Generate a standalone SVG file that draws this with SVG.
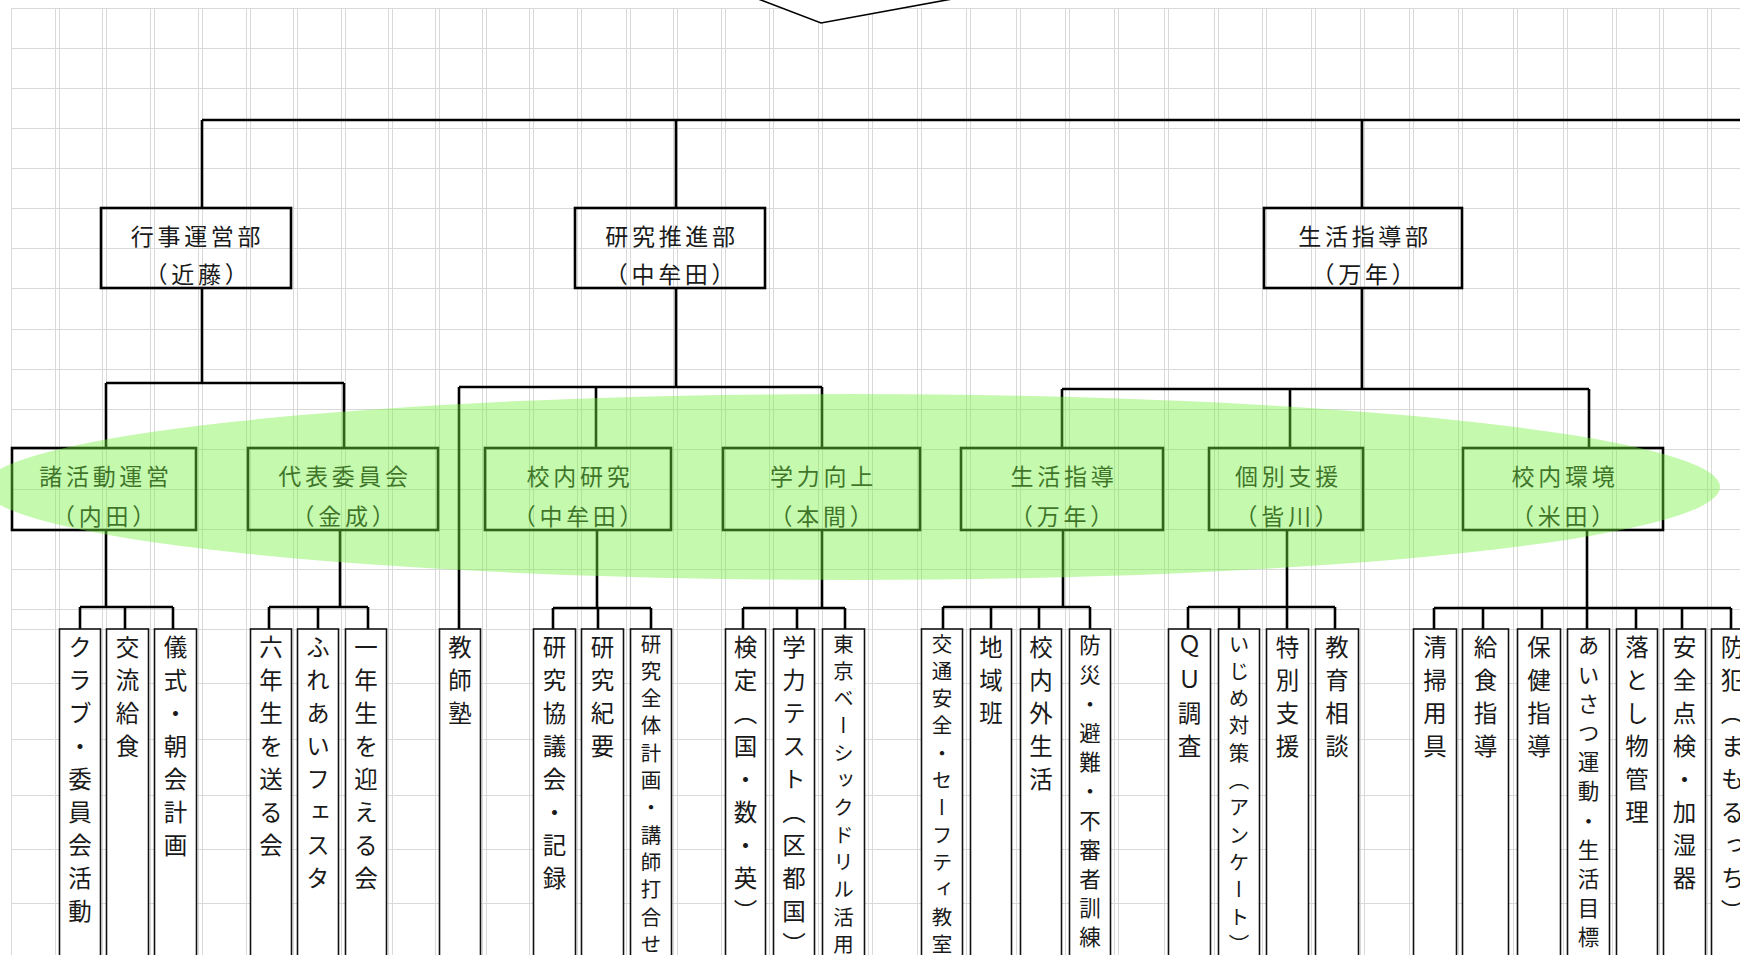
<svg xmlns="http://www.w3.org/2000/svg" width="1740" height="955" viewBox="0 0 1740 955">
<style>
.g{stroke:#d9d9d9;stroke-width:1;fill:none}
.c{stroke:#000;stroke-width:2.6;fill:none}
.b{fill:none;stroke:#000;stroke-width:2.6}
.lf{fill:#fff;stroke:#111;stroke-width:1.6}
.t{font-family:"Noto Sans CJK JP","Noto Sans CJK SC",sans-serif;fill:#1a1a1a;text-anchor:middle;dominant-baseline:central;font-size:23px;letter-spacing:3.7px}
.v{font-family:"Noto Sans CJK JP","Noto Sans CJK SC",sans-serif;fill:#1a1a1a;writing-mode:vertical-rl;font-size:23.5px;letter-spacing:9.5px}
.s{font-size:20.5px;letter-spacing:6.8px}
.m{font-size:21.5px;letter-spacing:7.7px}
</style>
<rect width="1740" height="955" fill="#fff"/>
<g id="grid">
<path class="g" d="M11.5 8.5V955M55.5 8.5V955M59.5 8.5V955M102.5 8.5V955M106.5 8.5V955M150.5 8.5V955M154.5 8.5V955M198.5 8.5V955M202.5 8.5V955M246.5 8.5V955M250.5 8.5V955M293.5 8.5V955M297.5 8.5V955M341.5 8.5V955M345.5 8.5V955M388.5 8.5V955M392.5 8.5V955M435.5 8.5V955M439.5 8.5V955M482.5 8.5V955M486.5 8.5V955M529.5 8.5V955M533.5 8.5V955M577.5 8.5V955M581.5 8.5V955M626.5 8.5V955M630.5 8.5V955M673.5 8.5V955M677.5 8.5V955M721.5 8.5V955M725.5 8.5V955M769.5 8.5V955M773.5 8.5V955M818.5 8.5V955M822.5 8.5V955M868.5 8.5V955M872.5 8.5V955M917.5 8.5V955M921.5 8.5V955M966.5 8.5V955M970.5 8.5V955M1016.5 8.5V955M1020.5 8.5V955M1065.5 8.5V955M1069.5 8.5V955M1114.5 8.5V955M1118.5 8.5V955M1164.5 8.5V955M1168.5 8.5V955M1214.5 8.5V955M1218.5 8.5V955M1262.5 8.5V955M1266.5 8.5V955M1311.5 8.5V955M1315.5 8.5V955M1360.5 8.5V955M1364.5 8.5V955M1409.5 8.5V955M1413.5 8.5V955M1458.5 8.5V955M1462.5 8.5V955M1513.5 8.5V955M1517.5 8.5V955M1563.5 8.5V955M1567.5 8.5V955M1612.5 8.5V955M1616.5 8.5V955M1659.5 8.5V955M1663.5 8.5V955M1707.5 8.5V955M1711.5 8.5V955"/>
<path class="g" d="M11.5 8.5H1740M11.5 48.5H1740M11.5 88.5H1740M11.5 128.5H1740M11.5 168.5H1740M11.5 208.5H1740M11.5 248.5H1740M11.5 288.5H1740M11.5 329.5H1740M11.5 369.5H1740M11.5 409.5H1740M11.5 449.5H1740M11.5 489.5H1740M11.5 529.5H1740M11.5 569.5H1740M11.5 609.5H1740M11.5 629.5H1740M11.5 683.5H1740M11.5 739.5H1740M11.5 795.5H1740M11.5 849.5H1740M11.5 903.5H1740"/>
</g>
<polygon id="topshape" points="753,-3 821,23 963,-3" fill="#fff" stroke="#000" stroke-width="1.6"/>
<g id="connectors">
<path class="c" d="M202 120H1745M202 120V208M676 120V208M1362 120V208"/>
<path class="c" d="M202 288V383M106 383H344M106 383V448M344 383V448"/>
<path class="c" d="M676 288V387M459 387H822M459 387V629M596 387V448M822 387V448"/>
<path class="c" d="M1362 288V389M1062 389H1589M1062 389V448M1290 389V448M1589 389V448"/>
<path class="c" d="M106 530V607M80 607H173M80 607V629M125 607V629M173 607V629"/>
<path class="c" d="M340 530V607M269 607H368M269 607V629M318 607V629M368 607V629"/>
<path class="c" d="M597 530V608M553 608H651M553 608V629M598 608V629M651 608V629"/>
<path class="c" d="M822 530V608M743 608H845M743 608V629M797 608V629M845 608V629"/>
<path class="c" d="M1063 530V607M943 607H1090M943 607V629M991 607V629M1039 607V629M1090 607V629"/>
<path class="c" d="M1287 530V607M1188 607H1335M1188 607V629M1239 607V629M1287 607V629M1335 607V629"/>
<path class="c" d="M1587 530V608M1434 608H1731M1434 608V629M1483 608V629M1542 608V629M1587 608V629M1636 608V629M1682 608V629M1731 608V629"/>
</g>
<g id="n-gyoji"><rect class="b" x="101" y="208" width="190" height="80"/><text class="t" x="197.5" y="235">行事運営部</text><text class="t" x="198" y="273">（近藤）</text></g>
<g id="n-kenkyu"><rect class="b" x="575" y="208" width="190" height="80"/><text class="t" x="672" y="235">研究推進部</text><text class="t" x="671.5" y="273">（中牟田）</text></g>
<g id="n-seikatsu"><rect class="b" x="1264" y="208" width="198" height="80"/><text class="t" x="1365" y="235">生活指導部</text><text class="t" x="1365" y="273">（万年）</text></g>
<g id="n-shokatsudo"><rect class="b" x="12" y="448" width="184" height="82"/><text class="t" x="106" y="475">諸活動運営</text><text class="t" x="105.5" y="515">（内田）</text></g>
<g id="n-daihyo"><rect class="b" x="248" y="448" width="190" height="82"/><text class="t" x="345" y="475">代表委員会</text><text class="t" x="345" y="515">（金成）</text></g>
<g id="n-konaikenkyu"><rect class="b" x="485" y="448" width="186" height="82"/><text class="t" x="580" y="475">校内研究</text><text class="t" x="579.5" y="515">（中牟田）</text></g>
<g id="n-gakuryoku"><rect class="b" x="723" y="448" width="197" height="82"/><text class="t" x="823.5" y="475">学力向上</text><text class="t" x="823" y="515">（本間）</text></g>
<g id="n-seikatsushido"><rect class="b" x="961" y="448" width="202" height="82"/><text class="t" x="1064" y="475">生活指導</text><text class="t" x="1063.5" y="515">（万年）</text></g>
<g id="n-kobetsu"><rect class="b" x="1209" y="448" width="154" height="82"/><text class="t" x="1288.5" y="475">個別支援</text><text class="t" x="1288" y="515">（皆川）</text></g>
<g id="n-kankyo"><rect class="b" x="1463" y="448" width="200" height="82"/><text class="t" x="1565" y="475">校内環境</text><text class="t" x="1564.5" y="515">（米田）</text></g>
<g id="leaves">
<g id="l0"><rect class="lf" x="59.5" y="629" width="41" height="340"/><text class="v" x="80" y="635">クラブ・委員会活動</text></g>
<g id="l1"><rect class="lf" x="106.5" y="629" width="42" height="340"/><text class="v" x="127.5" y="635">交流給食</text></g>
<g id="l2"><rect class="lf" x="154.5" y="629" width="42" height="340"/><text class="v" x="175.5" y="635">儀式・朝会計画</text></g>
<g id="l4"><rect class="lf" x="250.5" y="629" width="41" height="340"/><text class="v" x="271" y="635">六年生を送る会</text></g>
<g id="l5"><rect class="lf" x="297.5" y="629" width="41" height="340"/><text class="v" x="318" y="635">ふれあいフェスタ</text></g>
<g id="l6"><rect class="lf" x="345.5" y="629" width="41" height="340"/><text class="v" x="366" y="635">一年生を迎える会</text></g>
<g id="l8"><rect class="lf" x="439.5" y="629" width="41" height="340"/><text class="v" x="460" y="635">教師塾</text></g>
<g id="l10"><rect class="lf" x="533.5" y="629" width="42" height="340"/><text class="v" x="554.5" y="635">研究協議会・記録</text></g>
<g id="l11"><rect class="lf" x="581.5" y="629" width="42" height="340"/><text class="v" x="602.5" y="635">研究紀要</text></g>
<g id="l12"><rect class="lf" x="630.5" y="629" width="41" height="340"/><text class="v s" x="651" y="633.5">研究全体計画・講師打合せ</text></g>
<g id="l14"><rect class="lf" x="725.5" y="629" width="40" height="340"/><text class="v" x="745.5" y="635">検定（国・数・英）</text></g>
<g id="l15"><rect class="lf" x="773.5" y="629" width="41" height="340"/><text class="v" x="794" y="635">学力テスト（区都国）</text></g>
<g id="l16"><rect class="lf" x="822.5" y="629" width="42" height="340"/><text class="v s" x="843.5" y="633.5">東京ベーシックドリル活用</text></g>
<g id="l18"><rect class="lf" x="921.5" y="629" width="41" height="340"/><text class="v s" x="942" y="633.5">交通安全・セーフティ教室</text></g>
<g id="l19"><rect class="lf" x="970.5" y="629" width="41" height="340"/><text class="v" x="991" y="635">地域班</text></g>
<g id="l20"><rect class="lf" x="1020.5" y="629" width="41" height="340"/><text class="v" x="1041" y="635">校内外生活</text></g>
<g id="l21"><rect class="lf" x="1069.5" y="629" width="41" height="340"/><text class="v m" x="1090" y="634.5">防災・避難・不審者訓練</text></g>
<g id="l23"><rect class="lf" x="1168.5" y="629" width="42" height="340"/><text class="v" x="1189.5" y="635">ＱＵ調査</text></g>
<g id="l24"><rect class="lf" x="1218.5" y="629" width="41" height="340"/><text class="v s" x="1239" y="633.5">いじめ対策（アンケート）</text></g>
<g id="l25"><rect class="lf" x="1266.5" y="629" width="42" height="340"/><text class="v" x="1287.5" y="635">特別支援</text></g>
<g id="l26"><rect class="lf" x="1315.5" y="629" width="43" height="340"/><text class="v" x="1337" y="635">教育相談</text></g>
<g id="l28"><rect class="lf" x="1413.5" y="629" width="43" height="340"/><text class="v" x="1435" y="635">清掃用具</text></g>
<g id="l29"><rect class="lf" x="1462.5" y="629" width="46" height="340"/><text class="v" x="1485.5" y="635">給食指導</text></g>
<g id="l30"><rect class="lf" x="1517.5" y="629" width="43" height="340"/><text class="v" x="1539" y="635">保健指導</text></g>
<g id="l31"><rect class="lf" x="1567.5" y="629" width="42" height="340"/><text class="v m" x="1588.5" y="634.5">あいさつ運動・生活目標</text></g>
<g id="l32"><rect class="lf" x="1616.5" y="629" width="41" height="340"/><text class="v" x="1637" y="635">落とし物管理</text></g>
<g id="l33"><rect class="lf" x="1663.5" y="629" width="42" height="340"/><text class="v" x="1684.5" y="635">安全点検・加湿器</text></g>
<g id="l34"><rect class="lf" x="1711.5" y="629" width="42" height="340"/><text class="v" x="1732.5" y="635">防犯（まもるっち）</text></g>
</g>
<ellipse id="highlight" cx="852" cy="487" rx="868" ry="93" fill="#72f03d" fill-opacity="0.42"/>
</svg>
